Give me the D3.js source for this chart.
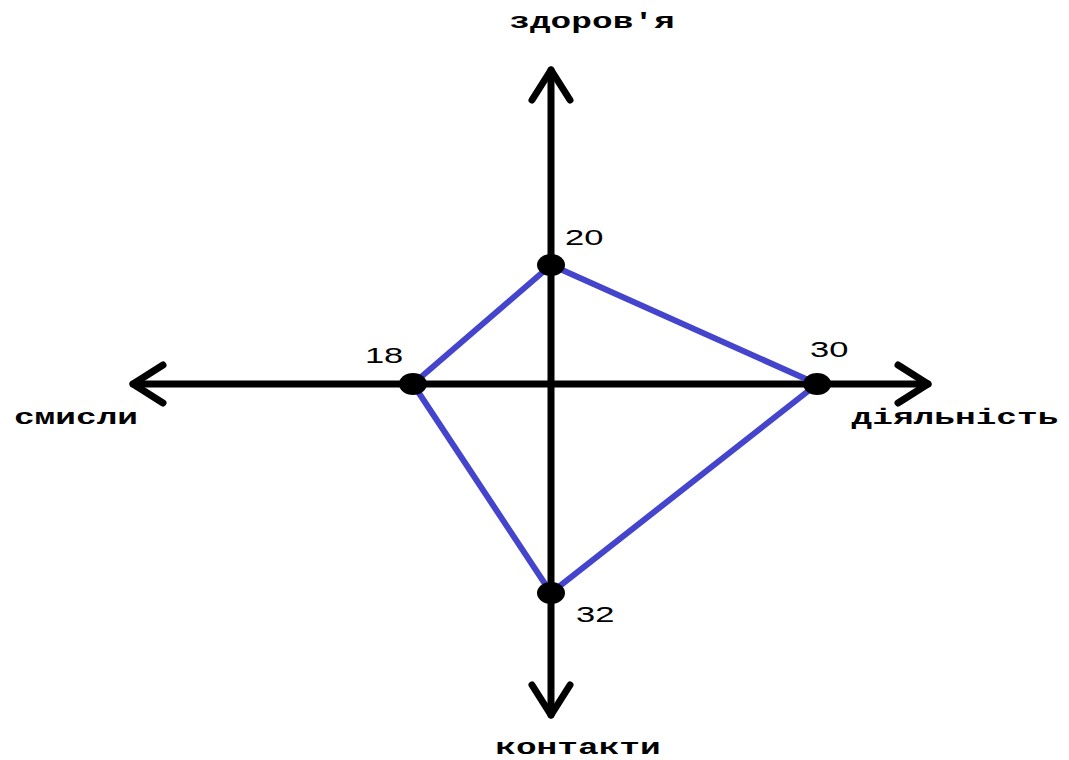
<!DOCTYPE html>
<html>
<head>
<meta charset="utf-8">
<script src="https://cdn.jsdelivr.net/npm/d3@7"></script>
<style>
  html, body { margin: 0; padding: 0; background: #fff; }
</style>
</head>
<body>
<svg id="chart" width="1069" height="760"></svg>
<script>
// axes go clockwise from the top
var axisNames = ["здоров'я", "діяльність", "контакти", "смисли"];
var values = [20, 30, 32, 18];
// each axis has its own reach in the drawing
var axisMax = [52.8, 42.5, 50.7, 54.5];

var width = 1069, height = 760
  , center = [551, 384]
  , axisLen = [314, 377, 331, 418]
  , dirs = [[0, -1], [1, 0], [0, 1], [-1, 0]]
  , blue = '#4444cc';

var svg = d3.select('#chart');

var scales = axisMax.map(function(m, i) {
  return d3.scaleLinear().domain([0, m]).range([0, axisLen[i]]);
});

function at(i, v) {
  var r = scales[i](v);
  return [center[0] + dirs[i][0]*r, center[1] + dirs[i][1]*r];
}

var pts = values.map(function(v, i) { return at(i, v); });

// axes with open arrowheads
var axisG = svg.append('g')
  .attr('stroke', '#000')
  .attr('stroke-width', 7)
  .attr('stroke-linecap', 'round')
  .attr('stroke-linejoin', 'round')
  .attr('fill', 'none');

axisG.append('line')
  .attr('x1', at(3, axisMax[3])[0]).attr('y1', center[1])
  .attr('x2', at(1, axisMax[1])[0]).attr('y2', center[1]);
axisG.append('line')
  .attr('x1', center[0]).attr('y1', at(0, axisMax[0])[1])
  .attr('x2', center[0]).attr('y2', at(2, axisMax[2])[1]);

axisG.selectAll('path.head')
  .data(axisMax)
  .enter().append('path')
    .attr('class', 'head')
    .attr('d', function(m, i) {
      var tip = at(i, m), d = dirs[i], back = 30, side = 19;
      var bx = tip[0] - d[0]*back, by = tip[1] - d[1]*back;
      var px = -d[1]*side, py = d[0]*side;
      return 'M' + [bx + px, by + py] + 'L' + tip + 'L' + [bx - px, by - py];
    });

// the shape
svg.append('path')
  .datum(pts)
  .attr('d', d3.line().curve(d3.curveLinearClosed))
  .attr('fill', 'none')
  .attr('stroke', blue)
  .attr('stroke-width', 6);

svg.selectAll('ellipse')
  .data(pts)
  .enter().append('ellipse')
    .attr('cx', function(d) { return d[0]; })
    .attr('cy', function(d) { return d[1]; })
    .attr('rx', 14)
    .attr('ry', 11)
    .attr('fill', '#000');

// value labels, offset from each point
var valOffset = [[14, -20], [-7, -27], [25, 29], [-48, -21]];
svg.selectAll('text.val')
  .data(values)
  .enter().append('text')
    .attr('class', 'val')
    .attr('transform', function(v, i) {
      return 'translate(' + [pts[i][0] + valOffset[i][0], pts[i][1] + valOffset[i][1]] + ')scale(1.5,1)';
    })
    .style('font-family', '"Liberation Sans", Arial, sans-serif')
    .style('font-size', '23px')
    .attr('fill', '#000')
    .text(function(v) { return v; });

// axis names
var namePos = [[592, 28], [955, 424], [578, 754], [76, 424]];
svg.selectAll('text.name')
  .data(axisNames)
  .enter().append('text')
    .attr('class', 'name')
    .attr('transform', function(n, i) {
      return 'translate(' + namePos[i] + ')scale(1.5,1)';
    })
    .attr('text-anchor', 'middle')
    .style('font-family', '"Liberation Mono", "Courier New", monospace')
    .style('font-weight', 'bold')
    .style('font-size', '23px')
    .attr('fill', '#000')
    .text(function(n) { return n; });
</script>
</body>
</html>
